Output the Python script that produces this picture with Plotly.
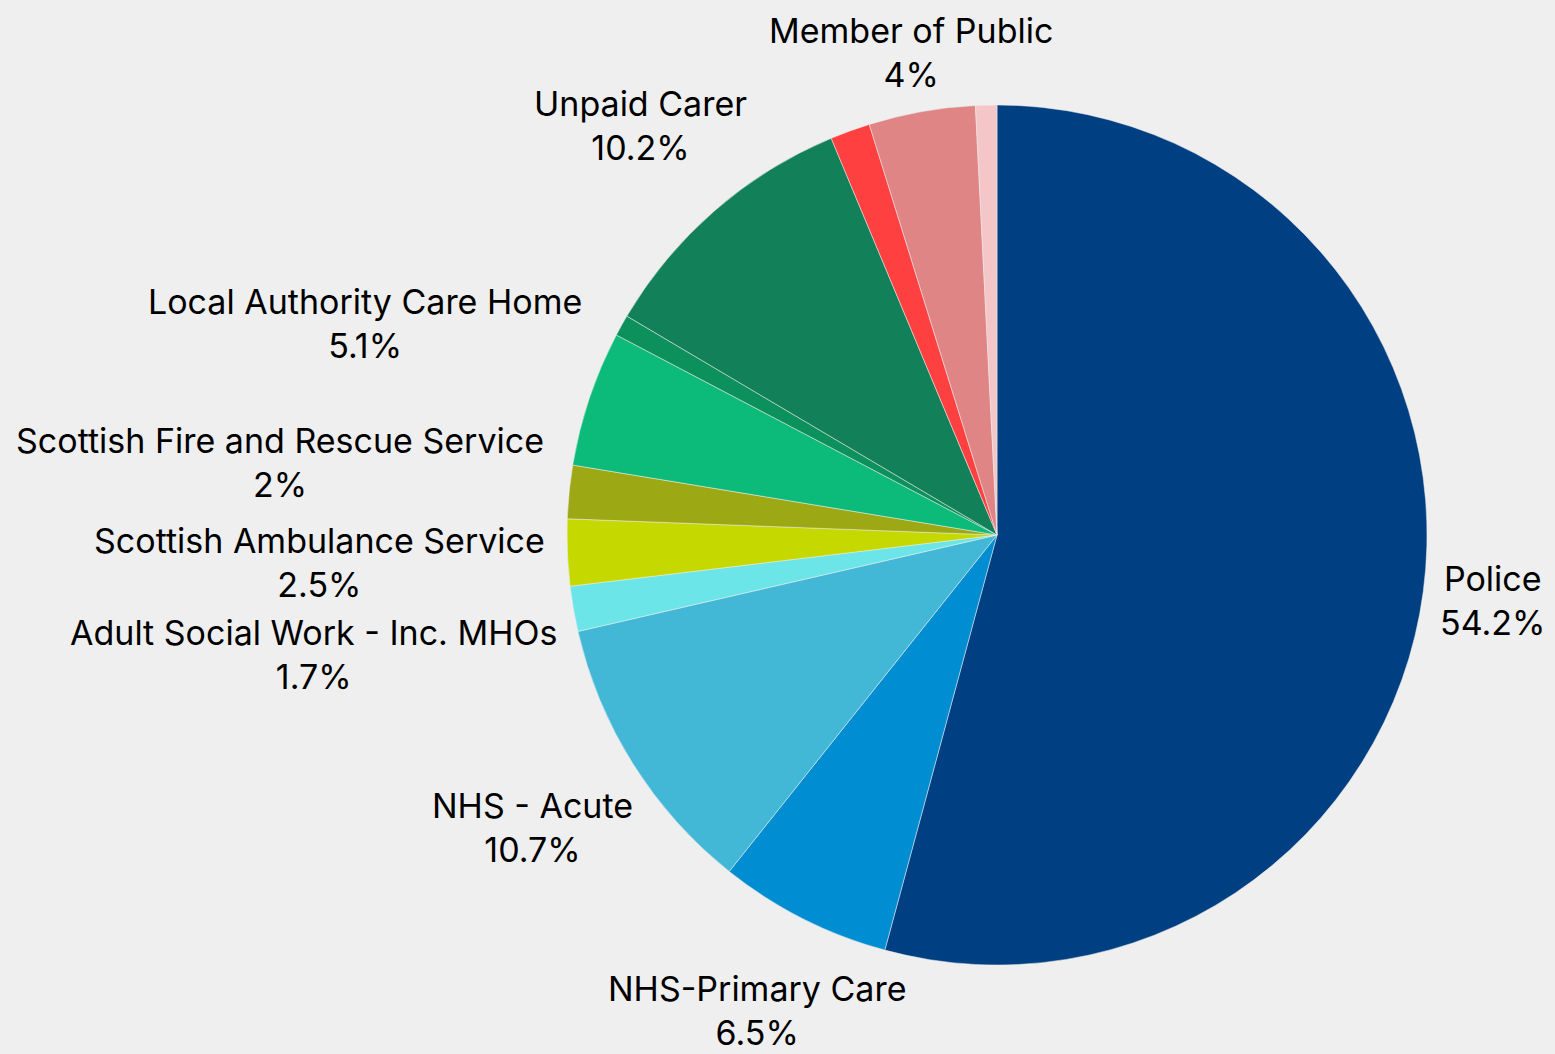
import math
import plotly.graph_objects as go

labels = [
    "Police",
    "NHS-Primary Care",
    "NHS - Acute",
    "Adult Social Work - Inc. MHOs",
    "Scottish Ambulance Service",
    "Scottish Fire and Rescue Service",
    "Local Authority Care Home",
    "Private Care Home",
    "Unpaid Carer",
    "Self",
    "Member of Public",
    "Other",
]
values = [54.2, 6.5, 10.7, 1.7, 2.5, 2.0, 5.1, 0.8, 10.2, 1.5, 4.0, 0.8]
show_label = [True, True, True, True, True, True, True, False, True, False, True, False]
colors = [
    "#003f82", "#008dd2", "#42b8d6", "#6ce5e8", "#c5d800", "#9da815",
    "#0cbb7a", "#0c915c", "#128058", "#ff4040", "#e08586", "#f5c6c8",
]

# label distance from pie centre, in pie radii (style only)
label_radius = [1.163, 1.238, 1.277, 1.613, 1.578, 1.675, 1.550, 1.3, 1.262, 1.3, 1.140, 1.3]

W, H = 1555, 1054
cx, cy, r = 997, 535, 430

fig = go.Figure(go.Pie(
    labels=labels,
    values=values,
    textinfo="none",
    sort=False,
    direction="clockwise",
    rotation=0,
    marker=dict(colors=colors, line=dict(color="#efefef", width=0.5)),
    showlegend=False,
    domain=dict(x=[(cx - r) / W, (cx + r) / W], y=[1 - (cy + r) / H, 1 - (cy - r) / H]),
    automargin=False,
))

total = sum(values)
cum = 0.0
for lab, v, s, k in zip(labels, values, show_label, label_radius):
    mid = (cum + v / 2) / total * 2 * math.pi
    cum += v
    if not s:
        continue
    px = cx + k * r * math.sin(mid)
    py = cy - k * r * math.cos(mid)
    fig.add_annotation(
        x=px / W, y=1 - py / H, xref="paper", yref="paper",
        text=f"{lab}<br>{v:g}%",
        showarrow=False, xanchor="center", yanchor="middle", align="center",
        font=dict(family="Inter, Noto Sans, sans-serif", size=34, color="#000000"),
    )

fig.update_layout(
    width=W, height=H,
    margin=dict(l=0, r=0, t=0, b=0),
    paper_bgcolor="#efefef",
    plot_bgcolor="#efefef",
)

fig.write_html(
    "out.html",
    config={"displayModeBar": False},
    post_script="document.body.style.margin='0';document.body.style.overflow='hidden';",
)
